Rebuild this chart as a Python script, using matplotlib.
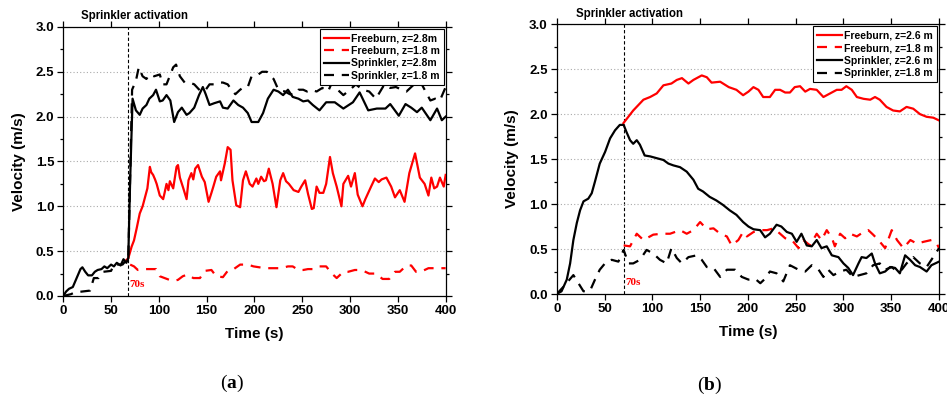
import matplotlib
matplotlib.use("Agg")
import matplotlib.pyplot as plt
from matplotlib.ticker import MultipleLocator

plt.rcParams['font.family'] = ['Liberation Sans', 'DejaVu Sans']
plt.rcParams['font.weight'] = 'bold'
plt.rcParams['mathtext.fontset'] = 'custom'
plt.rcParams['mathtext.rm'] = 'Liberation Serif'
plt.rcParams['mathtext.bf'] = 'Liberation Serif:bold'

### (a) freeburn / sprinkler velocities, z=2.8m and z=1.8m
a_sp_hi_t = [0, 3, 6, 10, 14, 18, 20, 23, 26, 30, 33, 36, 40, 43, 46, 50, 53, 56, 60, 63, 66, 68,
             70, 72.5, 76, 80, 83, 87, 90, 94, 97, 101, 104, 108, 112, 116, 120, 124, 129, 132, 137,
             142, 146, 149, 153, 158, 164, 167, 172, 178, 183, 188, 193, 197, 204, 209, 214, 220,
             225, 230, 235, 240, 246, 251, 256, 261, 268, 275, 284, 293, 303, 310, 319, 328, 337,
             342, 351, 358, 364, 370, 375, 384, 391, 396, 400]
a_sp_hi_v = [0.0, 0.05, 0.08, 0.1, 0.2, 0.3, 0.32, 0.27, 0.23, 0.23, 0.27, 0.29, 0.3, 0.33, 0.31,
             0.35, 0.33, 0.37, 0.34, 0.41, 0.37, 0.42,
             1.3, 2.2, 2.07, 2.02, 2.09, 2.13, 2.2, 2.24, 2.3, 2.17, 2.18, 2.24, 2.18, 1.94, 2.05,
             2.1, 2.02, 2.04, 2.1, 2.24, 2.33, 2.25, 2.13, 2.15, 2.17, 2.1, 2.09, 2.18, 2.13, 2.1,
             2.04, 1.94, 1.94, 2.04, 2.2, 2.3, 2.28, 2.24, 2.3, 2.22, 2.2, 2.17, 2.18, 2.13, 2.07,
             2.16, 2.16, 2.09, 2.16, 2.27, 2.07, 2.09, 2.09, 2.14, 2.01, 2.14, 2.1, 2.05, 2.1, 1.96,
             2.09, 1.96, 2.0]

a_fb_hi_t = [66, 68, 71.5, 74, 76.7, 80, 83, 85.5, 88, 90.6, 92, 94, 96, 97.7, 101, 104.5, 106, 108,
             110, 111.5, 115, 118.5, 120, 122, 125.6, 129, 131, 134, 136, 138, 141, 145, 148, 152,
             155, 157, 160, 164, 165, 169, 172, 175, 177, 181, 185, 188, 191, 195, 198, 202, 204,
             207, 210, 212, 215, 219, 223, 227, 230, 233, 236, 241, 246, 249, 253, 256, 260, 262,
             265, 268, 272, 275, 279, 282, 286, 291, 293, 298, 301, 305, 308, 313, 316, 319, 322,
             326, 330, 333, 338, 343, 347, 352, 357, 362, 368, 373, 378, 382, 385, 388, 391, 394,
             398, 400]
a_fb_hi_v = [0.4, 0.42, 0.55, 0.62, 0.75, 0.92, 1.0, 1.1, 1.2, 1.44, 1.38, 1.35, 1.3, 1.25, 1.12,
             1.08, 1.15, 1.25, 1.18, 1.28, 1.2, 1.44, 1.46, 1.32, 1.2, 1.08, 1.29, 1.37, 1.3, 1.42,
             1.46, 1.33, 1.27, 1.05, 1.15, 1.22, 1.33, 1.39, 1.29, 1.48, 1.66, 1.63, 1.29, 1.01,
             0.99, 1.29, 1.39, 1.25, 1.22, 1.31, 1.25, 1.33, 1.28, 1.29, 1.42, 1.25, 0.99, 1.29,
             1.37, 1.28, 1.25, 1.18, 1.16, 1.22, 1.29, 1.14, 0.97, 0.98, 1.22, 1.15, 1.15, 1.25,
             1.55, 1.37, 1.22, 1.0, 1.25, 1.34, 1.22, 1.37, 1.13, 1.0, 1.08, 1.15, 1.22, 1.31, 1.27,
             1.3, 1.32, 1.22, 1.1, 1.18, 1.05, 1.37, 1.59, 1.32, 1.25, 1.12, 1.32, 1.2, 1.22, 1.32,
             1.22, 1.35]

a_sp_lo_t = [0, 4, 8, 12, 20, 28, 32, 37, 42, 50, 53, 62, 66, 68, 72, 76, 79, 83, 87, 90, 95, 101,
             104, 108, 115, 118, 122, 127, 132, 137, 144, 149, 153, 158, 162, 167, 172, 176, 180,
             185, 189, 193, 197, 204, 208, 213, 217, 220, 225, 232, 237, 242, 246, 251, 255, 259,
             265, 271, 277, 281, 287, 293, 300, 306, 313, 320, 327, 336, 342, 348, 354, 359, 366,
             373, 379, 384, 389, 394, 400]
a_sp_lo_v = [0.0, 0.01, 0.02, 0.04, 0.05, 0.06, 0.2, 0.2, 0.27, 0.28, 0.35, 0.35, 0.4, 0.4, 2.3,
             2.4, 2.55, 2.45, 2.42, 2.47, 2.45, 2.47, 2.36, 2.36, 2.55, 2.58, 2.45, 2.38, 2.38,
             2.36, 2.28, 2.3, 2.36, 2.36, 2.38, 2.38, 2.36, 2.3, 2.25, 2.3, 2.33, 2.33, 2.45, 2.47,
             2.5, 2.5, 2.45, 2.42, 2.3, 2.28, 2.25, 2.25, 2.3, 2.3, 2.28, 2.3, 2.28, 2.32, 2.28,
             2.38, 2.3, 2.24, 2.3, 2.36, 2.3, 2.28, 2.2, 2.36, 2.32, 2.33, 2.3, 2.28, 2.35, 2.4,
             2.28, 2.18, 2.2, 2.18, 2.33]

a_fb_lo_t = [70, 74, 78, 85, 92, 97, 101, 106, 111, 116, 120, 125, 130, 136, 143, 148, 155, 160,
             167, 172, 177, 185, 193, 199, 205, 212, 220, 228, 235, 240, 246, 251, 256, 262, 268,
             275, 281, 286, 293, 298, 305, 312, 320, 327, 334, 341, 347, 352, 359, 364, 369, 374,
             382, 387, 392, 400]
a_fb_lo_v = [0.35, 0.33, 0.29, 0.3, 0.3, 0.3, 0.22, 0.2, 0.18, 0.17, 0.18, 0.22, 0.24, 0.2, 0.2,
             0.28, 0.29, 0.22, 0.21, 0.28, 0.29, 0.35, 0.35, 0.33, 0.32, 0.31, 0.31, 0.31, 0.33,
             0.33, 0.29, 0.29, 0.3, 0.3, 0.33, 0.33, 0.25, 0.2, 0.27, 0.27, 0.29, 0.29, 0.25, 0.25,
             0.19, 0.19, 0.27, 0.27, 0.34, 0.34, 0.27, 0.27, 0.31, 0.31, 0.31, 0.31]

### (b) freeburn / sprinkler velocities, z=2.6m and z=1.8m
b_fb_hi_t = [69.8, 80, 90.7, 97.7, 104.6, 111.6, 120, 125.6, 131, 137.8, 143, 151.7, 157, 162,
             171, 180, 188, 195, 200.6, 205.8, 211, 216, 223, 228.5, 233.7, 239, 244, 249, 254.6,
             260, 265, 272, 279, 286, 293, 298, 303, 308.7, 314, 321, 328, 333, 338, 345, 352,
             359, 366, 373, 380, 387, 394, 400]
b_fb_hi_v = [1.9, 2.04, 2.16, 2.19, 2.23, 2.32, 2.34, 2.38, 2.4, 2.34, 2.38, 2.43, 2.41, 2.35,
             2.36, 2.3, 2.27, 2.21, 2.25, 2.3, 2.27, 2.19, 2.19, 2.27, 2.27, 2.24, 2.24, 2.3, 2.31,
             2.25, 2.28, 2.27, 2.19, 2.23, 2.27, 2.27, 2.31, 2.27, 2.19, 2.17, 2.16, 2.19, 2.16,
             2.08, 2.04, 2.03, 2.08, 2.06, 2.0, 1.97, 1.96, 1.93]

b_sp_hi_t = [0, 5, 10.5, 14, 17.4, 21, 24.4, 28, 33, 36.6, 40, 45, 50.6, 55.8, 61, 66, 70, 73,
             76.7, 80, 83.7, 87, 92, 97.7, 104.6, 111.6, 116.8, 122, 129, 136, 143, 148, 153, 160,
             167, 174, 181, 188, 195, 200.6, 205.8, 212.8, 218, 223, 230, 235, 240.7, 246, 251,
             256, 261.6, 266.8, 272, 277, 282.5, 287.8, 294.7, 300, 305, 310, 315.7, 319, 324,
             329.6, 333, 338, 343.6, 348.8, 354, 359, 364.5, 369.7, 375, 380, 387, 392, 400]
b_sp_hi_v = [0.0, 0.03, 0.16, 0.34, 0.6, 0.79, 0.93, 1.03, 1.06, 1.12, 1.25, 1.45, 1.58, 1.73,
             1.82, 1.88, 1.88, 1.8, 1.71, 1.67, 1.71, 1.66, 1.54, 1.53, 1.51, 1.49, 1.45, 1.43,
             1.41, 1.36, 1.27, 1.17, 1.14, 1.08, 1.04, 0.99, 0.93, 0.88, 0.8, 0.75, 0.72, 0.71,
             0.63, 0.67, 0.77, 0.75, 0.69, 0.67, 0.58, 0.67, 0.54, 0.53, 0.6, 0.51, 0.53, 0.43,
             0.41, 0.34, 0.29, 0.21, 0.34, 0.41, 0.4, 0.45, 0.34, 0.23, 0.25, 0.3, 0.29, 0.23, 0.43,
             0.38, 0.32, 0.3, 0.25, 0.32, 0.36]

b_fb_lo_t = [70, 76.7, 83.7, 90.7, 101, 110, 118.6, 129, 136, 143, 150, 157, 164, 171, 178, 183,
             190, 195, 199, 206, 213, 220, 227, 233.7, 239, 246, 253, 258, 265, 272, 277, 282.5,
             288, 291, 296.5, 301.7, 307, 314, 321, 326, 331, 336.6, 343.6, 350.5, 356, 362.7, 370,
             376.7, 383.7, 392, 397.6, 400]
b_fb_lo_v = [0.54, 0.53, 0.67, 0.6, 0.66, 0.67, 0.67, 0.71, 0.67, 0.71, 0.8, 0.72, 0.73, 0.67,
             0.64, 0.54, 0.6, 0.69, 0.64, 0.69, 0.71, 0.71, 0.73, 0.67, 0.62, 0.6, 0.51, 0.6, 0.54,
             0.67, 0.6, 0.71, 0.62, 0.53, 0.67, 0.62, 0.67, 0.64, 0.69, 0.71, 0.66, 0.6, 0.51, 0.71,
             0.6, 0.51, 0.6, 0.56, 0.58, 0.6, 0.56, 0.51]

b_sp_lo_t = [0, 7, 17.4, 22.7, 28, 35, 40, 45, 52, 57.5, 64.5, 70, 75, 80, 87, 94, 101, 108, 115,
             120, 125.6, 131, 137.8, 146.5, 151.7, 157, 164, 171, 178, 186.6, 193.6, 200.6, 207.5,
             213, 218, 223, 230, 237, 244, 253, 260, 266.8, 274, 279, 284, 289.5, 296.5, 303, 310,
             317, 324, 331, 338, 343.6, 350.5, 356, 361, 366, 373, 380, 387, 392, 400]
b_sp_lo_v = [0.0, 0.08, 0.21, 0.12, 0.03, 0.04, 0.16, 0.27, 0.36, 0.38, 0.36, 0.49, 0.34, 0.34,
             0.38, 0.49, 0.45, 0.38, 0.34, 0.51, 0.4, 0.34, 0.41, 0.43, 0.38, 0.3, 0.29, 0.19, 0.27,
             0.27, 0.19, 0.16, 0.17, 0.12, 0.17, 0.25, 0.23, 0.14, 0.32, 0.27, 0.25, 0.32, 0.27,
             0.19, 0.27, 0.21, 0.25, 0.27, 0.19, 0.21, 0.23, 0.32, 0.34, 0.27, 0.3, 0.25, 0.27,
             0.34, 0.41, 0.34, 0.3, 0.38, 0.51]

panel_tags = ['a', 'b']
hi_heights = ['2.8m', '2.6 m']
act_lines = [68, 70]
tag_pos = [(232, 383), (710, 385)]


def setup_axes(ax, act):
    ax.set_xlim(0, 400)
    ax.set_ylim(0, 3.0)
    ax.xaxis.set_major_locator(MultipleLocator(50))
    ax.yaxis.set_major_locator(MultipleLocator(0.5))
    ax.yaxis.set_minor_locator(MultipleLocator(0.25))
    ax.yaxis.set_major_formatter(plt.FormatStrFormatter('%.1f'))
    ax.tick_params(which='both', direction='out', top=True, right=True, width=0.9, labelsize=9.5)
    ax.tick_params(which='major', length=4.5, pad=2)
    ax.tick_params(which='minor', length=2.5)
    ax.tick_params(axis='x', labeltop=False)
    ax.tick_params(axis='y', labelright=False)
    for s in ax.spines.values():
        s.set_linewidth(0.9)
    ax.grid(axis='y', linestyle=(0, (1, 2)), color='#aaaaaa', linewidth=0.8)
    ax.set_xlabel('Time (s)', fontsize=11, fontweight='bold', labelpad=7)
    ax.set_ylabel('Velocity (m/s)', fontsize=11, fontweight='bold', labelpad=7)
    ax.axvline(act, color='k', linestyle=(0, (3, 2)), linewidth=0.8, zorder=1)
    ax.text(act + 1.5, 0.13, '70s', color='red', fontsize=8, fontweight='bold',
            family='Liberation Serif', va='center', ha='left')
    ax.text(act + 6, 3.05, 'Sprinkler activation', fontsize=8.3, fontweight='bold',
            ha='center', va='bottom', clip_on=False)


fig = plt.figure(figsize=(9.47, 3.98), dpi=100)
ax1 = fig.add_axes([0.0668, 0.2563, 0.4038, 0.676])
ax2 = fig.add_axes([0.5879, 0.2613, 0.4037, 0.678])

dash = (0, (4.5, 3.5))
series = [
    (ax1, a_fb_hi_t, a_fb_hi_v, a_fb_lo_t, a_fb_lo_v, a_sp_hi_t, a_sp_hi_v, a_sp_lo_t, a_sp_lo_v),
    (ax2, b_fb_hi_t, b_fb_hi_v, b_fb_lo_t, b_fb_lo_v, b_sp_hi_t, b_sp_hi_v, b_sp_lo_t, b_sp_lo_v),
]

for i, (ax, fht, fhv, flt, flv, sht, shv, slt, slv) in enumerate(series):
    setup_axes(ax, act_lines[i])
    z = hi_heights[i]
    ax.plot(fht, fhv, color='red', lw=1.6, label='Freeburn, z=' + z, zorder=3)
    ax.plot(flt, flv, color='red', lw=1.6, linestyle=dash, label='Freeburn, z=1.8 m', zorder=3)
    ax.plot(sht, shv, color='black', lw=1.6, label='Sprinkler, z=' + z, zorder=4)
    ax.plot(slt, slv, color='black', lw=1.6, linestyle=dash, label='Sprinkler, z=1.8 m', zorder=4)
    leg = ax.legend(loc='upper right', fontsize=7.5, frameon=True, fancybox=False, borderaxespad=0.2,
                    handlelength=2.4, handletextpad=0.15, labelspacing=0.25, borderpad=0.4,
                    framealpha=1)
    leg.get_frame().set_edgecolor('black')
    leg.get_frame().set_linewidth(0.8)
    for t in leg.get_texts():
        t.set_fontweight('bold')

    # panel tag below each chart
    px, py = tag_pos[i]
    fig.text(px / 947, 1 - py / 398, r'($\mathbf{' + panel_tags[i] + '}$)',
             family='Liberation Serif', fontsize=14, fontweight='normal', ha='center', va='center')

fig.savefig('out.png', dpi=100)
